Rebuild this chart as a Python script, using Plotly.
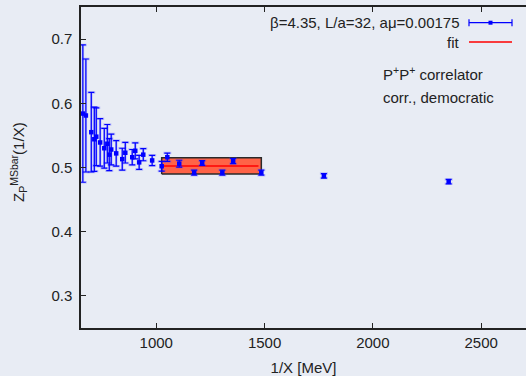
import plotly.graph_objects as go

# ---- data ----
inv_x = [661, 675, 700, 714, 723, 741, 760, 774, 783, 792, 815, 843, 857, 889, 903,
         921, 940, 981, 1025, 1051, 1106, 1175, 1212, 1305, 1355, 1485, 1774, 2350]
zp = [0.584, 0.581, 0.555, 0.544, 0.548, 0.539, 0.530, 0.537, 0.520, 0.528, 0.522,
      0.513, 0.523, 0.516, 0.526, 0.508, 0.520, 0.511, 0.502, 0.516, 0.506, 0.492,
      0.507, 0.492, 0.510, 0.492, 0.487, 0.478]
zp_err = [0.107, 0.088, 0.062, 0.050, 0.045, 0.037, 0.031, 0.030, 0.025, 0.024, 0.020,
          0.017, 0.016, 0.012, 0.0125, 0.011, 0.0095, 0.008, 0.0075, 0.0065, 0.0053,
          0.004, 0.0037, 0.004, 0.004, 0.004, 0.0035, 0.0035]

fit_value = 0.5025
fit_error = 0.0125
fit_band_x = [1025, 1485]
fit_line_x = [1030, 1472]

x_ticks = [1000, 1500, 2000, 2500]
y_ticks = [0.3, 0.4, 0.5, 0.6, 0.7]
x_range = [652.5, 2707]
y_range = [0.25, 0.75]

legend_label = "β=4.35, L/a=32, aμ=0.00175"
fit_label = "fit"
note_lines = ["P<sup>+</sup>P<sup>+</sup> correlator", "corr., democratic"]

FONT = "Liberation Sans, Arial, Helvetica, sans-serif"
FS = 15
BG = "#E8ECF4"
BLUE = "#0000FF"
TXT = "#222"

fig = go.Figure()

# fit band
lo, hi = fit_value - fit_error, fit_value + fit_error
fig.add_trace(go.Scatter(
    x=[fit_band_x[0], fit_band_x[1], fit_band_x[1], fit_band_x[0], fit_band_x[0]],
    y=[lo, lo, hi, hi, lo], mode="lines", fill="toself",
    fillcolor="#FF6347", line=dict(color="#2a2a2a", width=1.5),
    hoverinfo="skip", showlegend=False))
fig.add_trace(go.Scatter(
    x=fit_line_x, y=[fit_value, fit_value], mode="lines",
    line=dict(color="#FF0000", width=1.5), showlegend=False))

# halo error bars (lighter, wider)
fig.add_trace(go.Scatter(
    x=inv_x, y=zp, mode="markers", marker=dict(size=1, color="rgba(0,0,0,0)"),
    error_y=dict(type="data", array=zp_err, color="rgba(70,70,255,0.28)",
                 thickness=2.5, width=4),
    showlegend=False))
# data
fig.add_trace(go.Scatter(
    x=inv_x, y=zp, mode="markers",
    marker=dict(symbol="square", size=4.5, color=BLUE),
    error_y=dict(type="data", array=zp_err, color=BLUE, thickness=1.2, width=3),
    showlegend=False))

# y-axis title
fig.add_annotation(
    text="Z<sub>P</sub><sup>MSbar</sup>(1/X)", textangle=-90,
    xref="paper", yref="paper", x=(18 - 81) / 445, y=(328 - 162) / 321,
    xanchor="center", yanchor="middle", showarrow=False,
    font=dict(family=FONT, size=FS, color=TXT))

# legend (gnuplot style: text left, sample right)
def px2paper(px, py):
    return (px - 81) / 445, (328 - py) / 321

lx, ly = px2paper(462, 22.7)
fig.add_annotation(text=legend_label, xref="paper", yref="paper", x=lx, y=ly,
                   xanchor="right", yanchor="middle", showarrow=False,
                   font=dict(family=FONT, size=FS, color=TXT))
lx2, ly2 = px2paper(462, 42)
fig.add_annotation(text=fit_label, xref="paper", yref="paper", x=lx2, y=ly2,
                   xanchor="right", yanchor="middle", showarrow=False,
                   font=dict(family=FONT, size=FS, color=TXT))
for i, line in enumerate(note_lines):
    nx, ny = px2paper(380.5, 73 + 24 * i)
    fig.add_annotation(text=line, xref="paper", yref="paper", x=nx, y=ny,
                       xanchor="left", yanchor="middle", showarrow=False,
                       font=dict(family=FONT, size=FS, color=TXT))

x0p, _ = px2paper(469, 0)
x1p, _ = px2paper(512, 0)
xmp, _ = px2paper(490.5, 0)
fig.add_shape(type="line", xref="paper", yref="paper", x0=x0p, x1=x1p, y0=ly, y1=ly,
              line=dict(color=BLUE, width=1.2))
for xx in (x0p, x1p):
    fig.add_shape(type="line", xref="paper", yref="paper", x0=xx, x1=xx,
                  y0=ly - 3.5 / 321, y1=ly + 3.5 / 321, line=dict(color=BLUE, width=1.2))
fig.add_shape(type="rect", xref="paper", yref="paper",
              x0=xmp - 2.0 / 445, x1=xmp + 2.0 / 445, y0=ly - 2.0 / 321, y1=ly + 2.0 / 321,
              fillcolor=BLUE, line=dict(width=0))
fig.add_shape(type="line", xref="paper", yref="paper", x0=x0p, x1=x1p, y0=ly2, y1=ly2,
              line=dict(color="#FF0000", width=1.5))

axis_common = dict(showgrid=False, zeroline=False, showline=True, linecolor="#222",
                   linewidth=1.5, ticks="inside", ticklen=5, tickcolor="#222",
                   tickfont=dict(family=FONT, size=FS, color=TXT))
fig.update_xaxes(range=x_range, tickvals=x_ticks, mirror="ticks", ticklabelstandoff=0,
                 title=dict(text="1/X [MeV]", standoff=13,
                            font=dict(family=FONT, size=FS, color=TXT)),
                 **axis_common)
fig.update_yaxes(range=y_range, tickvals=y_ticks, tickformat=".1f", mirror=False,
                 ticklabelstandoff=4, **axis_common)

fig.update_layout(width=526, height=376, margin=dict(l=81, r=0, t=7, b=48),
                  paper_bgcolor=BG, plot_bgcolor=BG, showlegend=False)

fig.write_html("out.html")
